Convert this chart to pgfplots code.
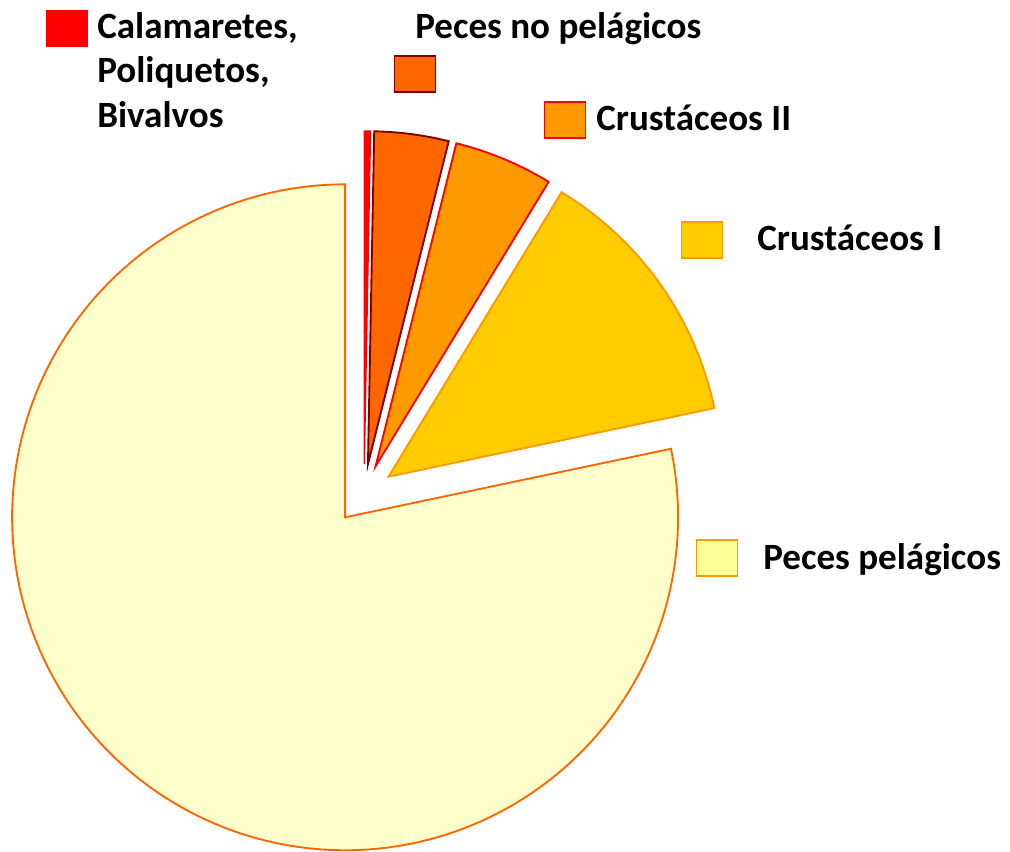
\documentclass[border=0pt]{standalone}
\usepackage{pgfplots}
\pgfplotsset{compat=1.18}
\usepackage{fontspec}
\setmainfont{Carlito}
\definecolor{cRed}{HTML}{FF0000}
\definecolor{cPNP}{HTML}{FF6600}
\definecolor{cPNPb}{HTML}{7F0000}
\definecolor{cCII}{HTML}{FF9900}
\definecolor{cCI}{HTML}{FFCC00}
\definecolor{cPP}{HTML}{FFFFCC}
\definecolor{cPPleg}{HTML}{FFFF99}
% data (percent)
\def\vA{0.3}  % Calamaretes, Poliquetos, Bivalvos
\def\vB{3.6}  % Peces no pelagicos
\def\vC{4.8}  % Crustaceos II
\def\vD{13.0} % Crustaceos I
\def\vE{78.3} % Peces pelagicos
\begin{document}%
\begin{tikzpicture}
\pgfmathsetmacro\aO{90}
\pgfmathsetmacro\aA{\aO-3.6*\vA}
\pgfmathsetmacro\aB{\aA-3.6*\vB}
\pgfmathsetmacro\aC{\aB-3.6*\vC}
\pgfmathsetmacro\aD{\aC-3.6*\vD}
\pgfmathsetmacro\aE{\aD-3.6*\vE}
\pgfmathsetmacro\xA{364+30*cos((\aO+\aA)/2)}\pgfmathsetmacro\yA{357+30*sin((\aO+\aA)/2)}
\pgfmathsetmacro\xB{364+30*cos((\aA+\aB)/2)}\pgfmathsetmacro\yB{357+30*sin((\aA+\aB)/2)}
\pgfmathsetmacro\xC{364+30*cos((\aB+\aC)/2)}\pgfmathsetmacro\yC{357+30*sin((\aB+\aC)/2)}
\pgfmathsetmacro\xD{364+30*cos((\aC+\aD)/2)}\pgfmathsetmacro\yD{357+30*sin((\aC+\aD)/2)}
\pgfmathsetmacro\xE{364+30*cos((\aD+\aE)/2)}\pgfmathsetmacro\yE{357+30*sin((\aD+\aE)/2)}
\begin{axis}[name=ax, x=0.75pt, y=0.75pt, xmin=0, xmax=1010, ymin=0, ymax=851,
  hide axis, clip=false, scale only axis]
\addplot[fill=cPP, draw=cPNP, line width=1.4pt, domain=\aE:\aD, samples=150, variable=\t]
  ({\xE+333*cos(\t)},{\yE+333*sin(\t)}) -- (axis cs:\xE,\yE) -- cycle;
\addplot[fill=cCI, draw=cCII, line width=1.4pt, domain=\aD:\aC, samples=40, variable=\t]
  ({\xD+333*cos(\t)},{\yD+333*sin(\t)}) -- (axis cs:\xD,\yD) -- cycle;
\addplot[fill=cCII, draw=cRed, line width=1.4pt, domain=\aC:\aB, samples=20, variable=\t]
  ({\xC+333*cos(\t)},{\yC+333*sin(\t)}) -- (axis cs:\xC,\yC) -- cycle;
\addplot[fill=cPNP, draw=cPNPb, line width=1.4pt, domain=\aB:\aA, samples=20, variable=\t]
  ({\xB+333*cos(\t)},{\yB+333*sin(\t)}) -- (axis cs:\xB,\yB) -- cycle;
\addplot[fill=cRed, draw=cRed, line width=1.0pt, domain=\aA:\aO, samples=5, variable=\t]
  ({\xA+333*cos(\t)},{\yA+333*sin(\t)}) -- (axis cs:\xA,\yA) -- cycle;
% legend swatches
\addplot[only marks, mark=square*, mark size=14.3pt, mark options={fill=cRed, draw=cRed, line width=0.4pt, xscale=1.07, yscale=0.94}] coordinates {(67,823)};
\addplot[only marks, mark=square*, mark size=14.3pt, mark options={fill=cPNP, draw=cPNPb, line width=1.2pt, xscale=1.07, yscale=0.94}] coordinates {(415,777)};
\addplot[only marks, mark=square*, mark size=14.3pt, mark options={fill=cCII, draw=cRed, line width=1.2pt, xscale=1.07, yscale=0.94}] coordinates {(565,731)};
\addplot[only marks, mark=square*, mark size=14.3pt, mark options={fill=cCI, draw=cCII, line width=1.2pt, xscale=1.07, yscale=0.94}] coordinates {(702,611)};
\addplot[only marks, mark=square*, mark size=14.3pt, mark options={fill=cPPleg, draw=cCII, line width=1.2pt, xscale=1.07, yscale=0.94}] coordinates {(717,293)};
% labels
\begin{scope}[every node/.style={anchor=base west, inner sep=0pt, font=\fontsize{27.8}{33}\selectfont\bfseries}]
\node at (axis cs:97,812) {Calamaretes,};
\node at (axis cs:97,768) {Poliquetos,};
\node at (axis cs:97,723) {Bivalvos};
\node at (axis cs:415,812) {Peces no pelágicos};
\node at (axis cs:596,720) {Crustáceos II};
\node at (axis cs:757,600) {Crustáceos I};
\node at (axis cs:763,282) {Peces pelágicos};
\end{scope}
\end{axis}
\pgfresetboundingbox
\path (ax.south west) rectangle (ax.north east);
\end{tikzpicture}%
\end{document}
